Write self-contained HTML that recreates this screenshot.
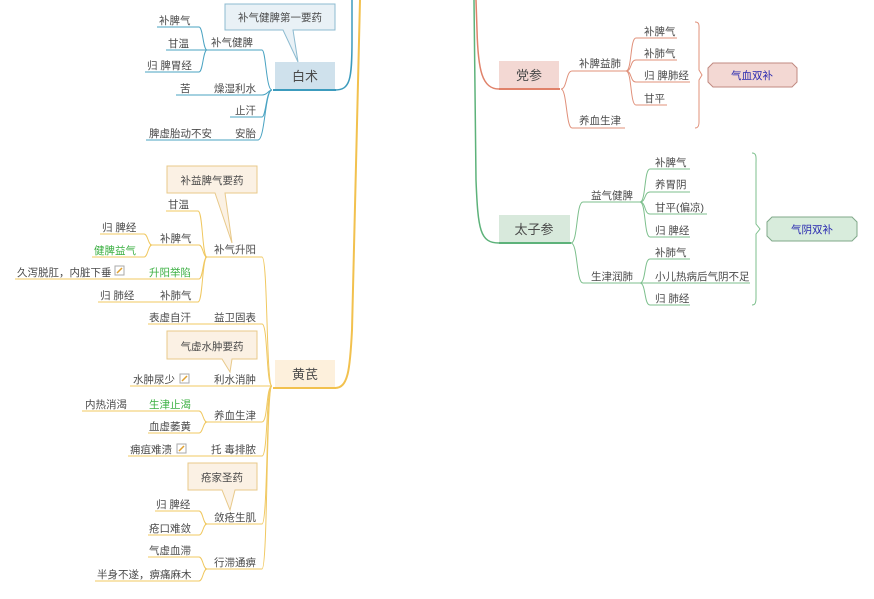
<!DOCTYPE html>
<html><head><meta charset="utf-8"><style>
html,body{margin:0;padding:0;background:#fff;width:874px;height:599px;overflow:hidden}
svg{display:block}
text{font-family:"Liberation Sans","Noto Sans CJK SC",sans-serif;font-size:10.5px;fill:#4a4a4a}
</style></head><body>
<svg width="874" height="599" viewBox="0 0 874 599" xmlns="http://www.w3.org/2000/svg">
<path d="M335,388 C348,388 350,370 352,330 L360,0" fill="none" stroke="#f2c14e" stroke-width="2"/>
<path d="M335,90 C350,90 352,80 352,40 L352,0" fill="none" stroke="#3c9bbd" stroke-width="1.5"/>
<path d="M499,243 C480,243 478,230 476,180 L474,0" fill="none" stroke="#5db27a" stroke-width="1.5"/>
<path d="M499,89 C482,89 478,70 477,30 L476,0" fill="none" stroke="#e0826a" stroke-width="1.5"/>

<g fill="none" stroke="#4aa3c2" stroke-width="1">
<path d="M272,90 C266,90 266,50 262,50 L205,50"/>
<path d="M272,90 C268,90 268,95 262,95 L176,95"/>
<path d="M272,90 C266,90 266,117 262,117 L230,117"/>
<path d="M272,90 C265,90 265,140 258,140 L146,140"/>
<path d="M207,50 C203,50 203,27 199,27 L157,27"/>
<path d="M207,50 L166,50"/>
<path d="M207,50 C203,50 203,72 199,72 L145,72"/>
</g>
<rect x="275" y="62" width="60" height="28" fill="#cfe1ec"/>
<line x1="273" y1="90" x2="336" y2="90" stroke="#3c9bbd" stroke-width="2"/>
<text x="305" y="81" text-anchor="middle" style="font-size:13px">白术</text>
<path d="M225,4 H335 V30 H293 L298,62 L283,30 H225 Z" fill="#e9f1f6" stroke="#8dbbd0"/>
<text x="280" y="21" text-anchor="middle">补气健脾第一要药</text>
<text x="211" y="46">补气健脾</text>
<text x="159" y="24">补脾气</text>
<text x="168" y="47">甘温</text>
<text x="147" y="69">归 脾胃经</text>
<text x="180" y="92">苦</text>
<text x="214" y="92">燥湿利水</text>
<text x="235" y="114">止汗</text>
<text x="149" y="137">脾虚胎动不安</text>
<text x="235" y="137">安胎</text>

<g fill="none" stroke="#f0c860" stroke-width="1">
<path d="M272,386 C266,386 268,257 262,257 L205,257"/>
<path d="M272,386 C266,386 268,324 262,324 L148,324"/>
<path d="M272,386 L130,386"/>
<path d="M272,386 C266,386 268,422 262,422 L205,422"/>
<path d="M272,386 C266,386 268,456 262,456 L128,456"/>
<path d="M272,386 C266,386 268,524 262,524 L205,524"/>
<path d="M272,386 C266,386 268,569 262,569 L205,569"/>
<path d="M207,257 C202,257 203,211 198,211 L166,211"/>
<path d="M207,257 C203,257 203,245 199,245 L150,245"/>
<path d="M207,257 C203,257 203,279 199,279 L15,279"/>
<path d="M207,257 C202,257 203,302 198,302 L98,302"/>
<path d="M152,245 C148,245 148,234 144,234 L100,234"/>
<path d="M152,245 C148,245 148,257 144,257 L92,257"/>
<path d="M207,422 C203,422 203,411 199,411 L82,411"/>
<path d="M207,422 C203,422 203,433 199,433 L148,433"/>
<path d="M207,524 C203,524 203,511 199,511 L155,511"/>
<path d="M207,524 C203,524 203,535 199,535 L148,535"/>
<path d="M207,569 C203,569 203,557 199,557 L148,557"/>
<path d="M207,569 C203,569 203,581 199,581 L95,581"/>
</g>
<rect x="275" y="360" width="60" height="28" fill="#fdf0dc"/>
<line x1="273" y1="388" x2="336" y2="388" stroke="#f2c14e" stroke-width="2"/>
<text x="305" y="379" text-anchor="middle" style="font-size:13px">黄芪</text>
<path d="M167,166 H257 V193 H225 L232,243 L215,193 H167 Z" fill="#fbf1e4" stroke="#e8c98a"/>
<text x="212" y="184" text-anchor="middle">补益脾气要药</text>
<path d="M167,331 H257 V359 H232 L230,372 L222,359 H167 Z" fill="#fbf1e4" stroke="#e8c98a"/>
<text x="212" y="350" text-anchor="middle">气虚水肿要药</text>
<path d="M188,463 H257 V490 H235 L230,510 L222,490 H188 Z" fill="#fbf1e4" stroke="#e8c98a"/>
<text x="222" y="481" text-anchor="middle">疮家圣药</text>

<text x="214" y="253">补气升阳</text>
<text x="168" y="208">甘温</text>
<text x="160" y="242">补脾气</text>
<text x="102" y="231">归 脾经</text>
<text x="94" y="254" style="fill:#3cb043">健脾益气</text>
<text x="17" y="276">久泻脱肛，内脏下垂</text>
<rect x="115" y="266" width="9" height="9" fill="#fff" stroke="#aaa"/><path d="M117,273 L122,268" stroke="#e0a030" stroke-width="1.5"/>
<text x="149" y="276" style="fill:#3cb043">升阳举陷</text>
<text x="100" y="299">归 肺经</text>
<text x="160" y="299">补肺气</text>
<text x="149" y="321">表虚自汗</text>
<text x="214" y="321">益卫固表</text>
<text x="133" y="383">水肿尿少</text>
<rect x="180" y="374" width="9" height="9" fill="#fff" stroke="#aaa"/><path d="M182,381 L187,376" stroke="#e0a030" stroke-width="1.5"/>
<text x="214" y="383">利水消肿</text>
<text x="85" y="408">内热消渴</text>
<text x="149" y="408" style="fill:#3cb043">生津止渴</text>
<text x="214" y="419">养血生津</text>
<text x="149" y="430">血虚萎黄</text>
<text x="130" y="453">痈疽难溃</text>
<rect x="177" y="444" width="9" height="9" fill="#fff" stroke="#aaa"/><path d="M179,451 L184,446" stroke="#e0a030" stroke-width="1.5"/>
<text x="211" y="453">托 毒排脓</text>
<text x="156" y="508">归 脾经</text>
<text x="214" y="521">敛疮生肌</text>
<text x="149" y="532">疮口难敛</text>
<text x="149" y="554">气虚血滞</text>
<text x="214" y="566">行滞通痹</text>
<text x="97" y="578">半身不遂，痹痛麻木</text>

<g fill="none" stroke="#e0907a" stroke-width="1">
<path d="M561,89 C567,89 566,71 572,71 L626,71"/>
<path d="M561,89 C567,89 566,128 572,128 L625,128"/>
<path d="M626,71 C632,71 630,38 636,38 L677,38"/>
<path d="M626,71 C632,71 630,60 636,60 L677,60"/>
<path d="M626,71 C632,71 630,82 636,82 L690,82"/>
<path d="M626,71 C632,71 630,105 636,105 L667,105"/>
<path d="M695,22 C700,22 699,26 699,32 L699,70 L702,75 L699,80 L699,122 C699,126 698,128 695,128"/>
</g>
<rect x="499" y="61" width="60" height="28" fill="#f3d8d3"/>
<line x1="499" y1="89" x2="560" y2="89" stroke="#e0826a" stroke-width="2"/>
<text x="529" y="80" text-anchor="middle" style="font-size:13px">党参</text>
<text x="579" y="67">补脾益肺</text>
<text x="579" y="124">养血生津</text>
<text x="644" y="35">补脾气</text>
<text x="644" y="57">补肺气</text>
<text x="644" y="79">归 脾肺经</text>
<text x="644" y="102">甘平</text>
<path d="M713,63 H792 L797,68 V82 L792,87 H713 L708,82 V68 Z" fill="#f3d8d3" stroke="#c08a80"/>
<text x="752" y="79" text-anchor="middle" style="fill:#2a2ab0">气血双补</text>

<g fill="none" stroke="#7cbf8c" stroke-width="1">
<path d="M571,243 C578,243 576,202 583,202 L640,202"/>
<path d="M571,243 C578,243 576,283 583,283 L640,283"/>
<path d="M640,202 C646,202 644,169 650,169 L690,169"/>
<path d="M640,202 C646,202 644,192 650,192 L690,192"/>
<path d="M640,202 C646,202 644,214 650,214 L707,214"/>
<path d="M640,202 C646,202 644,237 650,237 L690,237"/>
<path d="M640,283 C646,283 644,259 650,259 L690,259"/>
<path d="M640,283 L750,283"/>
<path d="M640,283 C646,283 644,305 650,305 L690,305"/>
<path d="M752,153 C757,153 756,158 756,164 L756,224 L760,229 L756,234 L756,298 C756,303 755,305 752,305"/>
</g>
<rect x="499" y="215" width="71" height="28" fill="#d8e9dc"/>
<line x1="499" y1="243" x2="571" y2="243" stroke="#5db27a" stroke-width="2"/>
<text x="534" y="234" text-anchor="middle" style="font-size:13px">太子参</text>
<text x="591" y="199">益气健脾</text>
<text x="591" y="280">生津润肺</text>
<text x="655" y="166">补脾气</text>
<text x="655" y="188">养胃阴</text>
<text x="655" y="211">甘平(偏凉)</text>
<text x="655" y="234">归 脾经</text>
<text x="655" y="256">补肺气</text>
<text x="655" y="280">小儿热病后气阴不足</text>
<text x="655" y="302">归 肺经</text>
<path d="M772,217 H852 L857,222 V236 L852,241 H772 L767,236 V222 Z" fill="#d8ecdc" stroke="#80a88a"/>
<text x="812" y="233" text-anchor="middle" style="fill:#2a2ab0">气阴双补</text>
</svg>
</body></html>
